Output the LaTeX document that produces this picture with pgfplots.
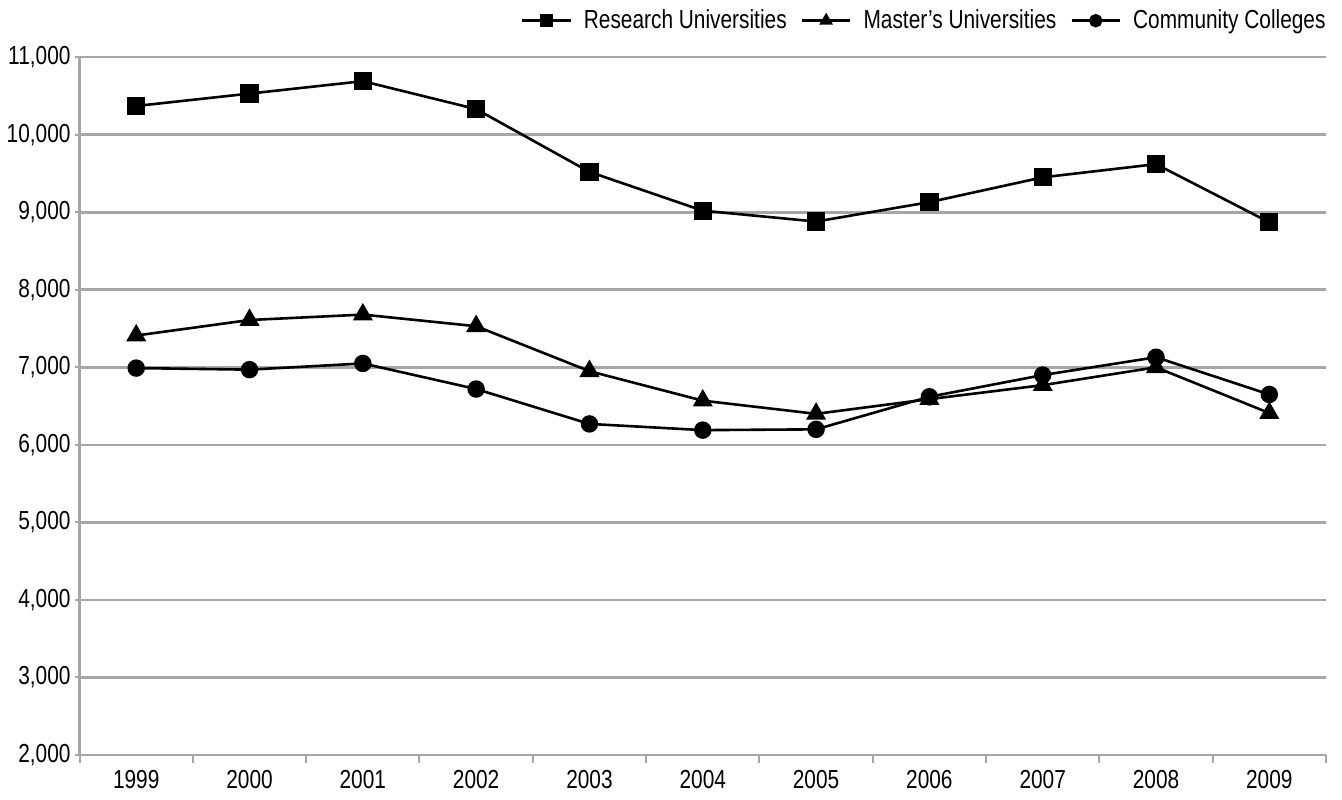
\documentclass[border=0pt]{standalone}
\usepackage{fontspec}
\setmainfont[FakeStretch=0.8]{Liberation Sans}
\usepackage{pgfplots}
\pgfplotsset{compat=1.18}
\definecolor{gridgray}{HTML}{A6A6A6}
\begin{document}
\begin{tikzpicture}
\begin{axis}[
  scale only axis,
  width=621.5pt, height=348pt,
  xmin=-0.5, xmax=10.5,
  ymin=2000, ymax=11000,
  ytick={2000,3000,...,11000},
  scaled y ticks=false,
  yticklabel={\pgfmathprintnumber[fixed,precision=0,1000 sep={,},assume math mode=true]{\tick}},
  xtick={0,...,10},
  xticklabels={1999,2000,2001,2002,2003,2004,2005,2006,2007,2008,2009},
  minor xtick={-0.5,0.5,...,10.5},
  major x tick style={draw=none},
  minor x tick style={draw=gridgray, line width=1pt},
  minor tick length=4pt,
  major tick length=2.5pt,
  y tick style={draw=gridgray, line width=1pt},
  tick align=outside,
  axis x line*=bottom,
  axis y line*=left,
  axis line style={draw=gridgray, line width=1.3pt, -},
  ymajorgrids,
  grid style={draw=gridgray, line width=1.3pt},
  tick label style={font=\fontsize{13}{15}\selectfont, text=black},
  yticklabel style={xshift=1.5pt},
  xticklabel style={yshift=-1.5pt},
  legend columns=3,
  legend style={at={(1,1)}, anchor=south east, yshift=10.5pt, xshift=2pt, draw=none, fill=none,
    font=\fontsize{13}{15}\selectfont, inner sep=0pt,
    nodes={inner sep=2pt},
    /tikz/every odd column/.append style={column sep=4pt},
    /tikz/every even column/.append style={column sep=5pt}},
  legend image code/.code={
    \draw[#1, mark size=2.7pt, mark repeat=2, mark phase=2] plot coordinates {(0pt,0pt) (12pt,0pt) (24pt,0pt)};
  },
  clip=false,
]
\addplot[black, line width=1.3pt, mark=square*, mark size=3.9pt] coordinates {
(0,10370) (1,10530) (2,10690) (3,10330) (4,9520) (5,9020) (6,8880) (7,9130) (8,9450) (9,9620) (10,8870)};
\addlegendentry{Research Universities}
\addplot[black, line width=1.3pt, mark=triangle*, mark size=4.5pt] coordinates {
(0,7410) (1,7610) (2,7680) (3,7530) (4,6950) (5,6570) (6,6400) (7,6590) (8,6770) (9,7000) (10,6410)};
\addlegendentry{Master’s Universities}
\addplot[black, line width=1.3pt, mark=*, mark size=3.7pt] coordinates {
(0,6990) (1,6970) (2,7050) (3,6720) (4,6270) (5,6190) (6,6200) (7,6620) (8,6900) (9,7130) (10,6650)};
\addlegendentry{Community Colleges}
\path (rel axis cs:1,0) ++(8pt,-22pt) coordinate (bbcorner);
\path (rel axis cs:0,1) ++(0pt,28.5pt) coordinate (bbtop);
\end{axis}
\end{tikzpicture}
\end{document}
